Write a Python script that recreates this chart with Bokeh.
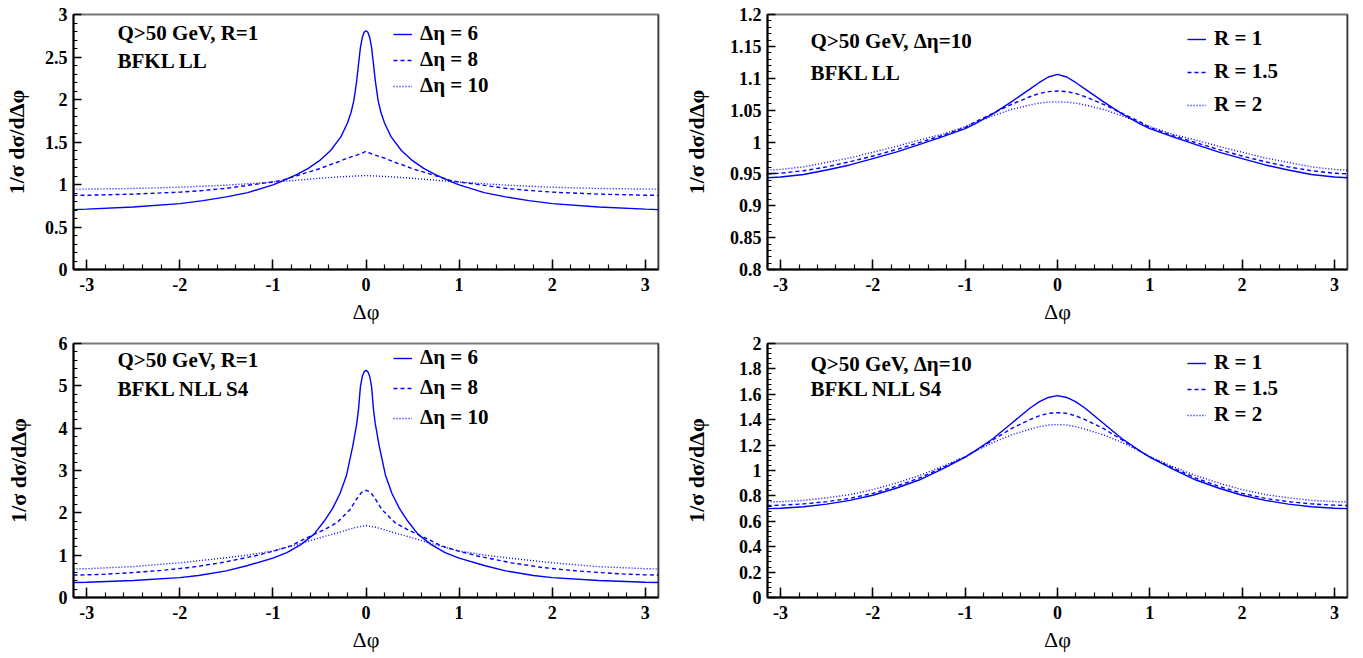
import numpy as np
from bokeh.plotting import figure
from bokeh.models import Range1d, FixedTicker, PrintfTickFormatter, Legend, LegendItem, Label, Span
from bokeh.layouts import column, row
from bokeh.embed import file_html
from bokeh.resources import INLINE

# ---------------- data ----------------
# Panel A: BFKL LL, Q>50 GeV, R=1, curves for delta-eta = 6, 8, 10
xa6 = [-3.1416, -3.0, -2.5, -2.0, -1.75, -1.5, -1.27, -1.0, -0.92, -0.74, -0.62, -0.5, -0.38, -0.27, -0.2,
       -0.16, -0.13, -0.1, -0.08, -0.06, -0.04, -0.02, 0.0, 0.02, 0.04, 0.06, 0.08, 0.1, 0.13, 0.16, 0.2,
       0.27, 0.38, 0.5, 0.62, 0.74, 0.92, 1.0, 1.27, 1.5, 1.75, 2.0, 2.5, 3.0, 3.1416]
ya6 = [0.705, 0.71, 0.735, 0.775, 0.81, 0.855, 0.905, 0.995, 1.03, 1.12, 1.19, 1.28, 1.40, 1.56, 1.72,
       1.85, 1.99, 2.22, 2.42, 2.61, 2.73, 2.79, 2.81, 2.79, 2.73, 2.61, 2.42, 2.22, 1.99, 1.85, 1.72,
       1.56, 1.40, 1.28, 1.19, 1.12, 1.03, 0.995, 0.905, 0.855, 0.81, 0.775, 0.735, 0.71, 0.705]
xa8 = [-3.1416, -3.0, -2.5, -2.0, -1.75, -1.5, -1.27, -1.0, -0.9, -0.74, -0.62, -0.5, -0.38, -0.3, -0.2,
       -0.1, -0.05, 0.0, 0.05, 0.1, 0.2, 0.3, 0.38, 0.5, 0.62, 0.74, 0.9, 1.0, 1.27, 1.5, 1.75, 2.0, 2.5,
       3.0, 3.1416]
ya8 = [0.872, 0.874, 0.887, 0.91, 0.93, 0.955, 0.99, 1.03, 1.05, 1.105, 1.145, 1.185, 1.235, 1.265, 1.31,
       1.345, 1.365, 1.39, 1.365, 1.345, 1.31, 1.265, 1.235, 1.185, 1.145, 1.105, 1.05, 1.03, 0.99, 0.955,
       0.93, 0.91, 0.887, 0.874, 0.872]
xa10 = [-3.1416, -3.0, -2.5, -2.0, -1.75, -1.5, -1.25, -1.0, -0.75, -0.5, -0.35, -0.2, -0.1, 0.0, 0.1,
        0.2, 0.35, 0.5, 0.75, 1.0, 1.25, 1.5, 1.75, 2.0, 2.5, 3.0, 3.1416]
ya10 = [0.945, 0.946, 0.953, 0.968, 0.98, 0.993, 1.01, 1.028, 1.05, 1.073, 1.085, 1.095, 1.10, 1.105, 1.10,
        1.095, 1.085, 1.073, 1.05, 1.028, 1.01, 0.993, 0.98, 0.968, 0.953, 0.946, 0.945]

# Panels B and D share the same delta-phi sampling
xr = [-3.1416, -3.0, -2.75, -2.5, -2.25, -2.0, -1.75, -1.5, -1.25, -1.0, -0.9, -0.7, -0.5, -0.3, -0.2, -0.1,
      0.0, 0.1, 0.2, 0.3, 0.5, 0.7, 0.9, 1.0, 1.25, 1.5, 1.75, 2.0, 2.25, 2.5, 2.75, 3.0, 3.1416]

# Panel B: BFKL LL, Q>50 GeV, delta-eta=10, curves for R = 1, 1.5, 2
b_r1 = [0.944, 0.945, 0.949, 0.956, 0.964, 0.974, 0.984, 0.996, 1.008, 1.021, 1.028, 1.044, 1.063, 1.083,
        1.093, 1.102, 1.106, 1.102, 1.093, 1.083, 1.063, 1.044, 1.028, 1.021, 1.008, 0.996, 0.984, 0.974,
        0.964, 0.956, 0.949, 0.945, 0.944]
b_r15 = [0.950, 0.951, 0.955, 0.961, 0.969, 0.978, 0.988, 0.999, 1.010, 1.023, 1.031, 1.045, 1.059, 1.071,
         1.076, 1.079, 1.080, 1.079, 1.076, 1.071, 1.059, 1.045, 1.031, 1.023, 1.010, 0.999, 0.988, 0.978,
         0.969, 0.961, 0.955, 0.951, 0.950]
b_r2 = [0.956, 0.957, 0.961, 0.968, 0.975, 0.984, 0.993, 1.003, 1.012, 1.024, 1.030, 1.041, 1.051, 1.058,
        1.061, 1.0625, 1.063, 1.0625, 1.061, 1.058, 1.051, 1.041, 1.030, 1.024, 1.012, 1.003, 0.993, 0.984,
        0.975, 0.968, 0.961, 0.957, 0.956]

# Panel C: BFKL NLL S4, Q>50 GeV, R=1, curves for delta-eta = 6, 8, 10
xc6 = [-3.1416, -3.0, -2.5, -2.0, -1.8, -1.5, -1.28, -1.0, -0.85, -0.7, -0.56, -0.45, -0.36, -0.28, -0.21,
       -0.14, -0.1, -0.08, -0.06, -0.04, -0.02, 0.0, 0.02, 0.04, 0.06, 0.08, 0.1, 0.14, 0.21, 0.28, 0.36,
       0.45, 0.56, 0.7, 0.85, 1.0, 1.28, 1.5, 1.8, 2.0, 2.5, 3.0, 3.1416]
yc6 = [0.355, 0.36, 0.40, 0.47, 0.52, 0.63, 0.75, 0.93, 1.06, 1.25, 1.49, 1.80, 2.10, 2.45, 2.88,
       3.60, 4.10, 4.45, 4.98, 5.22, 5.33, 5.37, 5.33, 5.22, 4.98, 4.45, 4.10, 3.60, 2.88, 2.45, 2.10,
       1.80, 1.49, 1.25, 1.06, 0.93, 0.75, 0.63, 0.52, 0.47, 0.40, 0.36, 0.355]
xc8 = [-3.1416, -3.0, -2.8, -2.5, -2.2, -1.89, -1.56, -1.2, -1.0, -0.81, -0.56, -0.45, -0.31, -0.17, -0.1,
       -0.07, -0.04, 0.0, 0.04, 0.07, 0.1, 0.17, 0.31, 0.45, 0.56, 0.81, 1.0, 1.2, 1.56, 1.89, 2.2, 2.5,
       2.8, 3.0, 3.1416]
yc8 = [0.53, 0.535, 0.55, 0.59, 0.64, 0.71, 0.82, 0.98, 1.09, 1.22, 1.49, 1.60, 1.77, 2.08, 2.33,
       2.42, 2.50, 2.53, 2.50, 2.42, 2.33, 2.08, 1.77, 1.60, 1.49, 1.22, 1.09, 0.98, 0.82, 0.71, 0.64, 0.59,
       0.55, 0.535, 0.53]
xc10 = [-3.1416, -3.0, -2.5, -2.0, -1.5, -1.25, -1.0, -0.75, -0.56, -0.45, -0.3, -0.2, -0.1, 0.0, 0.1,
        0.2, 0.3, 0.45, 0.56, 0.75, 1.0, 1.25, 1.5, 2.0, 2.5, 3.0, 3.1416]
yc10 = [0.675, 0.68, 0.73, 0.82, 0.94, 1.01, 1.10, 1.24, 1.37, 1.44, 1.53, 1.60, 1.66, 1.70, 1.66,
        1.60, 1.53, 1.44, 1.37, 1.24, 1.10, 1.01, 0.94, 0.82, 0.73, 0.68, 0.675]

# Panel D: BFKL NLL S4, Q>50 GeV, delta-eta=10, curves for R = 1, 1.5, 2
d_r1 = [0.700, 0.703, 0.715, 0.735, 0.765, 0.805, 0.860, 0.925, 1.010, 1.105, 1.150, 1.250, 1.370, 1.490,
        1.540, 1.575, 1.590, 1.575, 1.540, 1.490, 1.370, 1.250, 1.150, 1.105, 1.010, 0.925, 0.860, 0.805,
        0.765, 0.735, 0.715, 0.703, 0.700]
d_r15 = [0.724, 0.727, 0.737, 0.755, 0.780, 0.820, 0.875, 0.940, 1.020, 1.107, 1.150, 1.240, 1.330, 1.400,
         1.430, 1.450, 1.456, 1.450, 1.430, 1.400, 1.330, 1.240, 1.150, 1.107, 1.020, 0.940, 0.875, 0.820,
         0.780, 0.755, 0.737, 0.727, 0.724]
d_r2 = [0.753, 0.755, 0.765, 0.785, 0.810, 0.850, 0.900, 0.960, 1.030, 1.110, 1.150, 1.220, 1.280, 1.325,
        1.345, 1.358, 1.362, 1.358, 1.345, 1.325, 1.280, 1.220, 1.150, 1.110, 1.030, 0.960, 0.900, 0.850,
        0.810, 0.785, 0.765, 0.755, 0.753]

# text
deta_labels = ["\u0394\u03b7 = 6", "\u0394\u03b7 = 8", "\u0394\u03b7 = 10"]
r_labels = ["R = 1", "R = 1.5", "R = 2"]
x_title = "\u0394\u03c6"
y_title = "1/\u03c3 d\u03c3/d\u0394\u03c6"
x_ticks = [-3, -2, -1, 0, 1, 2, 3]

# ---------------- styling ----------------
FONT = "Liberation Serif"
BLUE = "#0000ff"
DASHES = ["solid", "4 3", "1 2"]


def make_panel(width, height, bl, br, bt, bb, ylim, ymajor, ystep_minor, y_std, x_std):
    p = figure(width=width, height=height,
               x_range=Range1d(-np.pi, np.pi), y_range=Range1d(*ylim),
               output_backend="svg", toolbar_location=None,
               min_border_left=bl, min_border_right=br, min_border_top=bt, min_border_bottom=bb)
    p.grid.visible = False
    p.outline_line_color = "#777777"
    p.outline_line_width = 2
    p.background_fill_color = "white"
    p.border_fill_color = "white"

    xminor = [round(v, 2) for v in np.arange(-3.0, 3.0001, 0.2)]
    p.xaxis.ticker = FixedTicker(ticks=x_ticks, minor_ticks=xminor)
    n = int(round((ylim[1] - ylim[0]) / ystep_minor))
    yminor = [round(ylim[0] + i * ystep_minor, 4) for i in range(n + 1)]
    p.yaxis.ticker = FixedTicker(ticks=ymajor, minor_ticks=yminor)
    p.xaxis.formatter = PrintfTickFormatter(format="%g")
    p.yaxis.formatter = PrintfTickFormatter(format="%g")

    for ax in (p.xaxis[0], p.yaxis[0]):
        ax.axis_line_color = "black"
        ax.axis_line_width = 2
        ax.major_tick_line_color = "black"
        ax.minor_tick_line_color = "black"
        ax.major_tick_line_width = 1.5
        ax.minor_tick_line_width = 1.2
        ax.major_tick_out = 0
        ax.minor_tick_out = 0
        ax.major_label_text_font = FONT
        ax.major_label_text_font_style = "bold"
        ax.major_label_text_font_size = "18px"
        ax.major_label_text_color = "black"
        ax.axis_label_text_font = FONT
        ax.axis_label_text_font_size = "22px"
        ax.axis_label_text_color = "black"
    p.xaxis.major_tick_in = 10
    p.xaxis.minor_tick_in = 5
    p.yaxis.major_tick_in = 8
    p.yaxis.minor_tick_in = 4
    p.xaxis.major_label_standoff = 8
    p.yaxis.major_label_standoff = 6
    p.xaxis.axis_label = x_title
    p.yaxis.axis_label = y_title
    p.xaxis.axis_label_text_font_style = "normal"
    p.yaxis.axis_label_text_font_style = "bold"
    p.yaxis.axis_label_standoff = y_std
    p.xaxis.axis_label_standoff = x_std

    p.add_layout(Span(location=np.pi, dimension="height", line_color="black", line_width=1.5))
    return p


def add_curves(p, xs, ys, labels, loc, spacing):
    items = []
    for x, y, lab, dash in zip(xs, ys, labels, DASHES):
        r = p.line(x, y, line_color=BLUE, line_width=1.4, line_dash=dash)
        items.append(LegendItem(label=lab, renderers=[r]))
    leg = Legend(items=items, location=loc, orientation="vertical",
                 label_text_font=FONT, label_text_font_style="bold", label_text_font_size="21px",
                 label_text_color="black",
                 glyph_width=19, glyph_height=24, label_height=24, label_standoff=8,
                 spacing=spacing, padding=0, margin=0,
                 border_line_alpha=0, background_fill_alpha=0)
    p.add_layout(leg)


def add_text(p, x, ys, texts):
    for y, t in zip(ys, texts):
        p.add_layout(Label(x=x, y=y, x_units="screen", y_units="screen", text=t,
                           text_font=FONT, text_font_style="bold", text_font_size="21px",
                           text_color="black", text_baseline="middle", text_align="left"))


# top-left (frame 73..658 x 14..269)
pA = make_panel(680, 333, 73, 22, 14, 64, (0, 3), [0, 0.5, 1, 1.5, 2, 2.5, 3], 0.1, 13, 5)
add_curves(pA, [xa6, xa8, xa10], [ya6, ya8, ya10], deta_labels, (320, 171), 1)
add_text(pA, 44, [237, 209], ["Q>50 GeV, R=1", "BFKL LL"])

# top-right (frame 763..1347 x 14..269)
pB = make_panel(675, 333, 83, 8, 14, 64, (0.8, 1.2),
                [0.8, 0.85, 0.9, 0.95, 1.0, 1.05, 1.1, 1.15, 1.2], 0.01, 18, 5)
add_curves(pB, [xr, xr, xr], [b_r1, b_r15, b_r2], r_labels, (420, 152), 8)
add_text(pB, 43, [229, 197], ["Q>50 GeV, \u0394\u03b7=10", "BFKL LL"])

# bottom-left (frame 73..658 x 343..597)
pC = make_panel(680, 325, 73, 22, 10, 61, (0, 6), [0, 1, 2, 3, 4, 5, 6], 0.2, 25, 5)
add_curves(pC, [xc6, xc8, xc10], [yc6, yc8, yc10], deta_labels, (320, 167), 5)
add_text(pC, 44, [238, 209], ["Q>50 GeV, R=1", "BFKL NLL S4"])

# bottom-right (frame 763..1347 x 343..597)
pD = make_panel(675, 325, 83, 8, 10, 61, (0, 2),
                [0, 0.2, 0.4, 0.6, 0.8, 1.0, 1.2, 1.4, 1.6, 1.8, 2.0], 0.04, 27, 5)
add_curves(pD, [xr, xr, xr], [d_r1, d_r15, d_r2], r_labels, (420, 170), 1)
add_text(pD, 43, [234, 209], ["Q>50 GeV, \u0394\u03b7=10", "BFKL NLL S4"])

layout = column(row(pA, pB), row(pC, pD))
open("out.html", "w").write(file_html(layout, INLINE))
